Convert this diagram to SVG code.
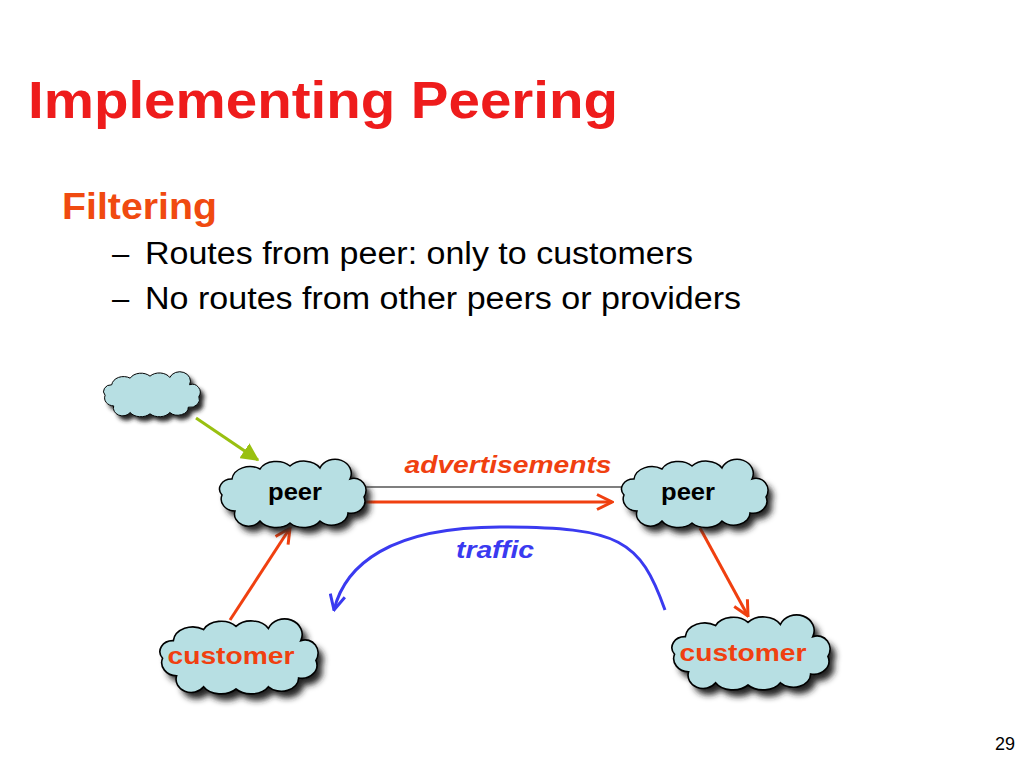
<svg xmlns="http://www.w3.org/2000/svg" width="1024" height="768" viewBox="0 0 1024 768">
<style>
.t{font-family:"Liberation Sans",Arial,sans-serif}
.cl{fill:#b7dfe3;stroke:#000;stroke-width:1.5}
.sh{fill:#222;filter:url(#blur)}
.lbl{font-family:"Liberation Sans",Arial,sans-serif;font-weight:bold;font-size:24px;text-anchor:middle}
</style>
<defs>
<filter id="blur" x="-20%" y="-30%" width="140%" height="160%"><feGaussianBlur stdDeviation="3"/></filter>
<path id="cloud" d="M -55,18 A 14 12 0 0 1 -68,2 A 12 10 0 0 1 -58,-14 A 18 14 0 0 1 -30,-24 A 18 13 0 0 1 0,-27 A 18 13 0 0 1 30,-25 A 16 14 0 0 1 60,-14 A 12 12 0 0 1 74,4 A 14 12 0 0 1 58,20 A 16 12 0 0 1 30,28 A 18 12 0 0 1 0,30 A 18 12 0 0 1 -30,28 A 14 12 0 0 1 -55,18 Z"/>
<marker id="ar" viewBox="0 0 12 12" refX="11" refY="6" markerWidth="6" markerHeight="6" orient="auto"><polyline points="1,1 11,6 1,11" fill="none" stroke="#f04010" stroke-width="2"/></marker>
<marker id="ag" viewBox="0 0 12 12" refX="11" refY="6" markerWidth="6" markerHeight="6" orient="auto"><path d="M0,0 L12,6 L0,12 Z" fill="#99c010"/></marker>
<marker id="ab" viewBox="0 0 12 12" refX="11" refY="6" markerWidth="6" markerHeight="6" orient="auto"><polyline points="1,1 11,6 1,11" fill="none" stroke="#3a3af0" stroke-width="2"/></marker>
</defs>
<rect width="1024" height="768" fill="#fff"/>
<text class="t" x="28" y="118" font-size="52" font-weight="bold" fill="#ee1c1c" textLength="590" lengthAdjust="spacingAndGlyphs">Implementing Peering</text>
<text class="t" x="62" y="219" font-size="37" font-weight="bold" fill="#f04a10" textLength="155" lengthAdjust="spacingAndGlyphs">Filtering</text>
<text class="t" x="112" y="264" font-size="31">–</text>
<text class="t" x="145" y="264" font-size="31" textLength="548" lengthAdjust="spacingAndGlyphs">Routes from peer: only to customers</text>
<text class="t" x="112" y="309" font-size="31">–</text>
<text class="t" x="145" y="309" font-size="31" textLength="596" lengthAdjust="spacingAndGlyphs">No routes from other peers or providers</text>
<text class="t" x="1015" y="750" font-size="18" text-anchor="end">29</text>

<g id="connectors" fill="none" stroke-width="3">
<line x1="365" y1="487" x2="625" y2="487" stroke="#000" stroke-width="1.2"/>
<line x1="365" y1="502" x2="612" y2="502" stroke="#f04010" marker-end="url(#ar)"/>
<line x1="196" y1="418" x2="258" y2="460" stroke="#99c010" marker-end="url(#ag)"/>
<line x1="230" y1="620" x2="290" y2="528" stroke="#f04010" marker-end="url(#ar)"/>
<line x1="700" y1="528" x2="748" y2="616" stroke="#f04010" marker-end="url(#ar)"/>
<path d="M665,610 C640,540 620,527 500,527 C390,527 345,565 334,610" stroke="#3a3af0" marker-end="url(#ab)"/>
<text class="lbl" x="508" y="473" fill="#f04010" font-style="italic" font-size="26" textLength="207" lengthAdjust="spacingAndGlyphs" stroke="none">advertisements</text>
<text class="lbl" x="495" y="558" fill="#3a3af0" font-style="italic" font-size="26" textLength="78" lengthAdjust="spacingAndGlyphs" stroke="none">traffic</text>
</g>

<g id="cloud-top" transform="translate(150,394) scale(0.66)"><use href="#cloud" class="sh" transform="translate(6,7)"/><use href="#cloud" class="cl"/></g>
<g id="peer-left" transform="translate(290,493)"><use href="#cloud" class="sh" transform="translate(5,6)"/><use href="#cloud" class="cl"/><text class="lbl" x="5" y="7" textLength="54" lengthAdjust="spacingAndGlyphs">peer</text></g>
<g id="peer-right" transform="translate(692,493)"><use href="#cloud" class="sh" transform="translate(5,6)"/><use href="#cloud" class="cl"/><text class="lbl" x="-4" y="7" textLength="54" lengthAdjust="spacingAndGlyphs">peer</text></g>
<g id="customer-left" transform="translate(236,656) scale(1.08,1.1)"><use href="#cloud" class="sh" transform="translate(5,6)"/><use href="#cloud" class="cl"/></g>
<text class="lbl" x="231" y="664" fill="#f04010" font-size="27" textLength="127" lengthAdjust="spacingAndGlyphs">customer</text>
<g id="customer-right" transform="translate(748,652) scale(1.08,1.1)"><use href="#cloud" class="sh" transform="translate(5,6)"/><use href="#cloud" class="cl"/></g>
<text class="lbl" x="743" y="661" fill="#f04010" font-size="27" textLength="127" lengthAdjust="spacingAndGlyphs">customer</text>
</svg>
